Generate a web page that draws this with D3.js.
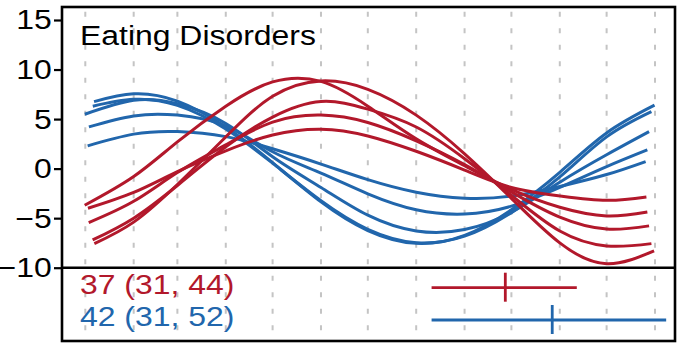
<!DOCTYPE html>
<html>
<head>
<meta charset="utf-8">
<script src="https://cdn.jsdelivr.net/npm/d3@7"></script>
<style>
  body { margin: 0; background: #fff; }
  svg text { font-family: "Liberation Sans", Arial, sans-serif; }
</style>
</head>
<body>
<script>
// month boundaries (day of year) used for the dashed grid and as sample points
var monthDays = [0, 31, 59, 90, 120, 151, 181, 212, 243, 273, 304, 334, 365];
var yTicks = [-10, -5, 0, 5, 10, 15];
var title = "Eating Disorders";

// each line: first value at its start day, last at its end day, the rest at monthDays
var redStart = [-0.4, 5.8, 4.7, 2.2, 1.7];
var redEnd = [360.1, 364.4, 362.7, 361.2, 359.5];
var redValues = [
  [-3.7, -0.8, 2.7, 6.3, 8.75, 8.8, 6.3, 3.0, 0.3, -2.1, -3.9, -4.77, -4.37],
  [-7.57, -5.4, -1.6, 3.2, 7.3, 8.85, 8.0, 5.4, 1.5, -3.0, -7.5, -9.6, -8.3],
  [-7.2, -5.0, -1.7, 2.2, 5.2, 6.77, 6.0, 4.2, 1.0, -2.7, -6.3, -7.8, -7.57],
  [-5.45, -3.3, -0.4, 2.4, 4.7, 5.4, 4.65, 2.8, 0.4, -2.35, -4.9, -6.1, -5.78],
  [-4.0, -2.4, -0.3, 1.8, 3.4, 3.98, 3.3, 1.75, -0.15, -1.9, -2.75, -3.2, -2.86]
];

var blueStart = [5.6, 4.8, -0.3, 2.3, 1.5];
var blueEnd = [364.7, 362.7, 361.2, 360.1, 359];
var blueValues = [
  [6.76, 7.55, 6.81, 4.21, 0.6, -3.35, -6.25, -7.54, -6.73, -4.15, -0.37, 3.6, 6.4],
  [6.3, 6.99, 6.39, 4.0, 0.55, -3.24, -6.12, -7.47, -6.82, -4.44, -0.84, 3.2, 5.75],
  [5.49, 6.9, 6.54, 4.56, 1.2, -1.9, -4.7, -6.29, -6.15, -4.39, -1.37, 1.4, 3.73],
  [4.21, 5.32, 5.4, 4.29, 1.7, -0.45, -2.54, -4.15, -4.58, -3.79, -1.9, 0.2, 1.89],
  [2.29, 3.48, 3.74, 3.23, 2.0, 0.46, -1.11, -2.38, -2.98, -2.77, -1.8, -0.6, 0.71]
];

// peak week estimate with interval (week of year)
var peakEst = [37, 42];
var peakLow = [31, 31];
var peakHigh = [44, 52];
var peakMark = [37.6, 41.8];

var red = "#B2182B", blue = "#2166AC";
var W = 686, H = 359;
var box = { left: 62, right: 675, top: 7, bottom: 341 };
var stretch = "scale(1.14,1)";

var svg = d3.select("body").append("svg")
  .attr("width", W)
  .attr("height", H);

var x = d3.scaleLinear().domain([0, 365]).range([85.3, 655]);
var xWeek = d3.scaleLinear().domain([0, 51]).range([85.3, 655]);
var y = d3.scaleLinear().domain([-10, 15]).range([267.7, 20]);

// dashed month grid, runs through both panels
svg.selectAll(".grid")
  .data(monthDays)
  .enter().append("line")
    .attr("class", "grid")
    .attr("x1", d => x(d)).attr("x2", d => x(d))
    .attr("y1", 11.7).attr("y2", box.bottom)
    .attr("stroke", "#c4c4c4")
    .attr("stroke-width", 2)
    .attr("stroke-dasharray", "5 11.5");

var line = d3.line()
  .x(d => x(d[0]))
  .y(d => y(d[1]))
  .curve(d3.curveNatural);

function toPoints(vals, s, e) {
  return vals.map(function (v, i) {
    var day = i === 0 ? s : (i === vals.length - 1 ? e : monthDays[i]);
    return [day, v];
  });
}

svg.selectAll(".blue")
  .data(blueValues)
  .enter().append("path")
    .attr("class", "blue")
    .attr("d", (d, i) => line(toPoints(d, blueStart[i], blueEnd[i])))
    .attr("fill", "none")
    .attr("stroke", blue)
    .attr("stroke-width", 3);

svg.selectAll(".red")
  .data(redValues)
  .enter().append("path")
    .attr("class", "red")
    .attr("d", (d, i) => line(toPoints(d, redStart[i], redEnd[i])))
    .attr("fill", "none")
    .attr("stroke", red)
    .attr("stroke-width", 3);

// frame + divider at y = -10
svg.append("rect")
  .attr("x", box.left).attr("y", box.top)
  .attr("width", box.right - box.left)
  .attr("height", box.bottom - box.top)
  .attr("fill", "none")
  .attr("stroke", "#000")
  .attr("stroke-width", 2.6);

svg.append("line")
  .attr("x1", box.left).attr("x2", box.right)
  .attr("y1", y(-10)).attr("y2", y(-10))
  .attr("stroke", "#000")
  .attr("stroke-width", 2.6);

var yAxis = svg.append("g")
  .attr("transform", "translate(" + box.left + ",0)")
  .call(d3.axisLeft(y).tickValues(yTicks).tickSize(8).tickSizeOuter(0).tickPadding(1));

yAxis.select(".domain").remove();
yAxis.selectAll(".tick line").attr("stroke", "#000").attr("stroke-width", 2.2);
yAxis.selectAll(".tick text")
  .attr("font-size", 28)
  .attr("fill", "#000")
  .attr("font-family", "'Liberation Sans', Arial, sans-serif")
  .attr("transform", stretch);

svg.append("text")
  .attr("transform", "translate(80,45) " + stretch)
  .attr("font-size", 28)
  .attr("fill", "#000")
  .text(title);

// lower panel: peak week with interval
var colours = [red, blue];
var rowY = [287.7, 320];

var rows = svg.selectAll(".peak")
  .data(peakEst)
  .enter().append("g")
    .attr("class", "peak");

rows.append("text")
  .attr("transform", (d, i) => "translate(80," + (rowY[i] + 5.8) + ") " + stretch)
  .attr("font-size", 28)
  .attr("fill", (d, i) => colours[i])
  .text((d, i) => d + " (" + peakLow[i] + ", " + peakHigh[i] + ")");

rows.append("line")
  .attr("x1", (d, i) => xWeek(peakLow[i]))
  .attr("x2", (d, i) => xWeek(peakHigh[i]))
  .attr("y1", (d, i) => rowY[i]).attr("y2", (d, i) => rowY[i])
  .attr("stroke", (d, i) => colours[i])
  .attr("stroke-width", 2.8);

rows.append("line")
  .attr("x1", (d, i) => xWeek(peakMark[i]))
  .attr("x2", (d, i) => xWeek(peakMark[i]))
  .attr("y1", (d, i) => rowY[i] - 15).attr("y2", (d, i) => rowY[i] + 14)
  .attr("stroke", (d, i) => colours[i])
  .attr("stroke-width", 2.8);
</script>
</body>
</html>
